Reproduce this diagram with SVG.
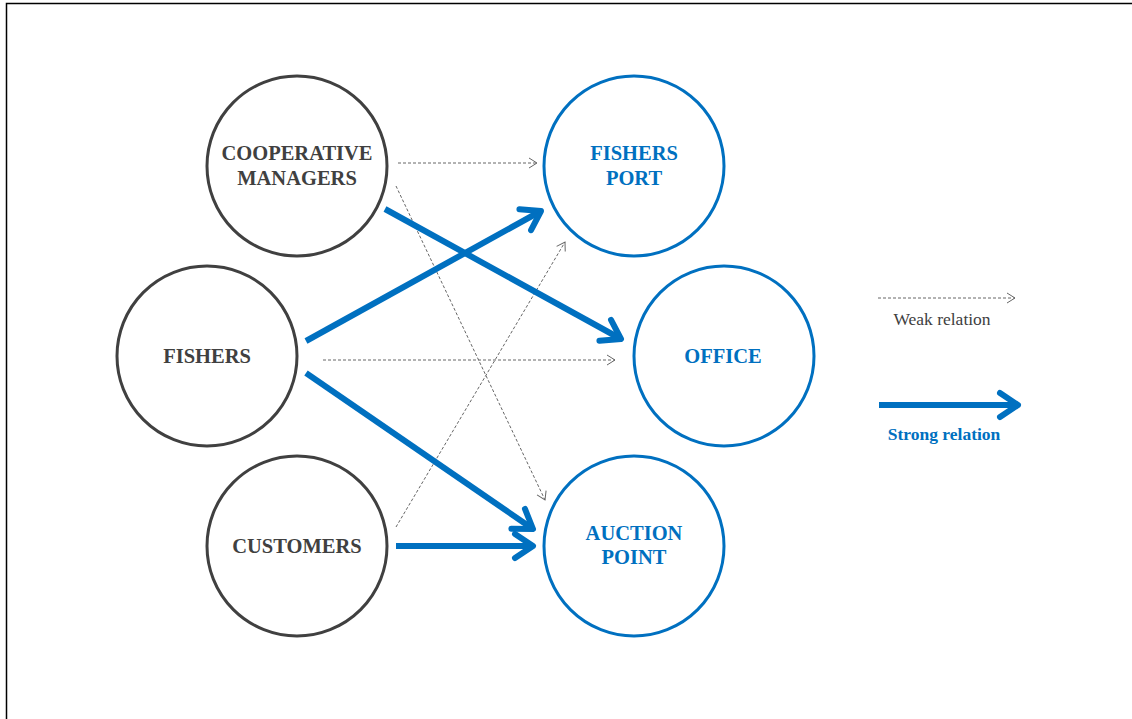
<svg xmlns="http://www.w3.org/2000/svg" width="1132" height="719" viewBox="0 0 1132 719">
<style>
.dark{fill:#fff;stroke:#404040;stroke-width:3}
.blue{fill:#fff;stroke:#0070C0;stroke-width:3}
.t{font-family:"Liberation Serif","Times New Roman",serif;font-weight:bold;font-size:20.5px;text-anchor:middle}
.td{fill:#404040}
.tb{fill:#0070C0}
.weak{stroke:#666;stroke-width:1;stroke-dasharray:3 2;fill:none}
.strong{stroke:#0070C0;stroke-width:6;fill:none}
.wh{stroke:#666;stroke-width:1;fill:none}
.sh{stroke:#0070C0;stroke-width:6;fill:none;stroke-linecap:round;stroke-linejoin:round}
</style>
<defs>
<marker id="mw" markerUnits="userSpaceOnUse" markerWidth="20" markerHeight="20" refX="10" refY="10" orient="auto" overflow="visible">
<path d="M2,5 L10,10 L2,15" class="wh"/>
</marker>
<marker id="ms" markerUnits="userSpaceOnUse" markerWidth="40" markerHeight="40" refX="20" refY="20" orient="auto" overflow="visible">
<path d="M2,8 L20,20 L2,32" class="sh"/>
</marker>
</defs>
<rect x="0" y="0" width="1132" height="719" fill="#fff"/>
<rect x="6.5" y="3.5" width="1140" height="740" fill="none" stroke="#000" stroke-width="1.5"/>
<g id="connectors">
<line class="weak" x1="398" y1="163" x2="537" y2="163" marker-end="url(#mw)"/>
<line class="weak" x1="396" y1="186" x2="545" y2="500" marker-end="url(#mw)"/>
<line class="weak" x1="396" y1="527" x2="565" y2="242" marker-end="url(#mw)"/>
<line class="weak" x1="323" y1="360" x2="615" y2="360" marker-end="url(#mw)"/>
<line class="strong" x1="306" y1="341" x2="541" y2="211" marker-end="url(#ms)"/>
<line class="strong" x1="385" y1="209" x2="621" y2="339" marker-end="url(#ms)"/>
<line class="strong" x1="306" y1="373" x2="533" y2="529" marker-end="url(#ms)"/>
<line class="strong" x1="396" y1="546" x2="533" y2="546" marker-end="url(#ms)"/>
</g>
<g id="cooperative-managers">
<circle class="dark" cx="297" cy="166" r="90"/>
<text class="t td" x="297" y="160">COOPERATIVE</text>
<text class="t td" x="297" y="185">MANAGERS</text>
</g>
<g id="fishers">
<circle class="dark" cx="207" cy="356" r="90"/>
<text class="t td" x="207" y="363">FISHERS</text>
</g>
<g id="customers">
<circle class="dark" cx="297" cy="546" r="90"/>
<text class="t td" x="297" y="553">CUSTOMERS</text>
</g>
<g id="fishers-port">
<circle class="blue" cx="634" cy="166" r="90"/>
<text class="t tb" x="634" y="160">FISHERS</text>
<text class="t tb" x="634" y="185">PORT</text>
</g>
<g id="office">
<circle class="blue" cx="724" cy="356" r="90"/>
<text class="t tb" x="723" y="363">OFFICE</text>
</g>
<g id="auction-point">
<circle class="blue" cx="634" cy="546" r="90"/>
<text class="t tb" x="634" y="540">AUCTION</text>
<text class="t tb" x="634" y="564">POINT</text>
</g>
<g id="legend">
<line class="weak" x1="878" y1="298" x2="1015" y2="298" marker-end="url(#mw)"/>
<text x="942" y="325" font-family="'Liberation Serif','Times New Roman',serif" font-size="17.5" fill="#404040" text-anchor="middle">Weak relation</text>
<line class="strong" x1="879" y1="405" x2="1018" y2="405" marker-end="url(#ms)"/>
<text x="944" y="440" font-family="'Liberation Serif','Times New Roman',serif" font-weight="bold" font-size="17.5" fill="#0070C0" text-anchor="middle">Strong relation</text>
</g>
</svg>
